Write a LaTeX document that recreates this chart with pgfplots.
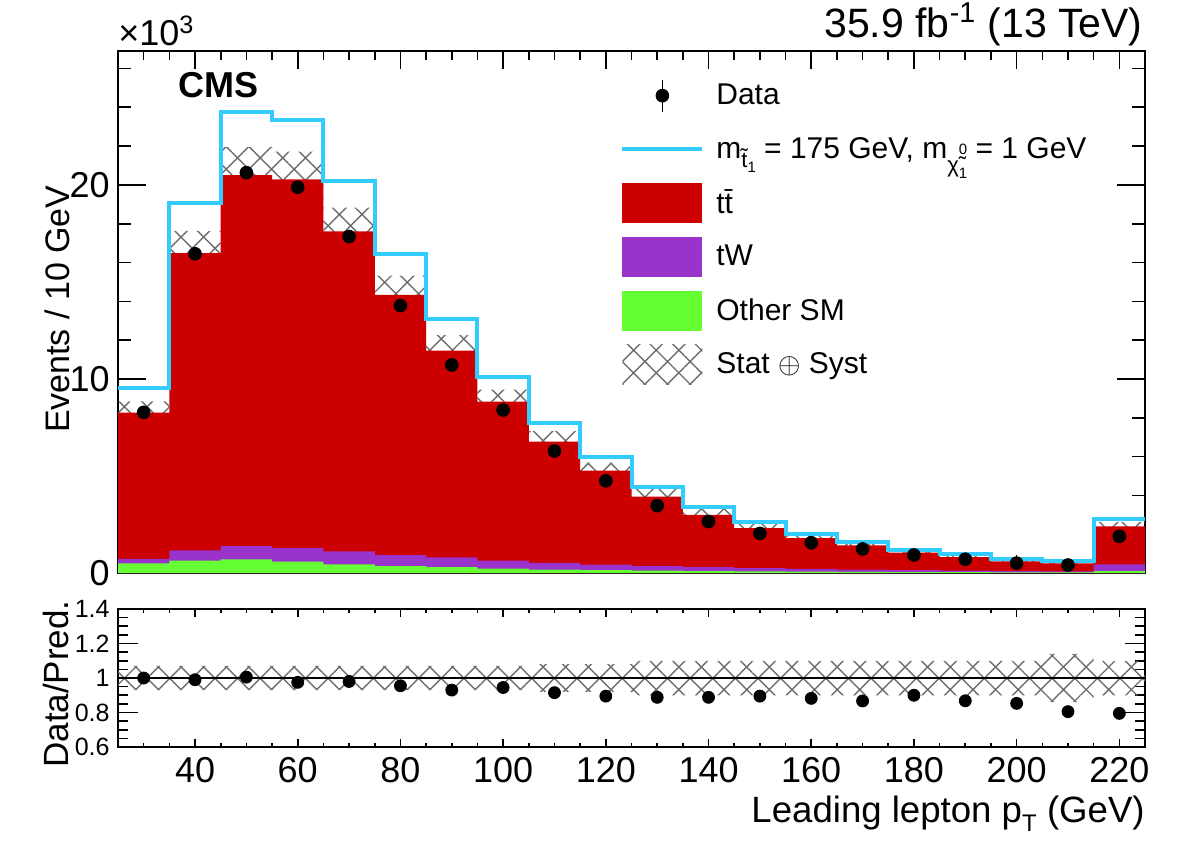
\documentclass[border=0pt]{standalone}
\usepackage{pgfplots}
\pgfplotsset{compat=1.18}
\usepackage{pgfplotstable}
\usepgfplotslibrary{fillbetween}
\usetikzlibrary{patterns.meta}
\usepackage{fontspec}
\setmainfont{Liberation Sans}

\definecolor{ttred}{RGB}{204,0,0}
\definecolor{twpur}{RGB}{153,51,204}
\definecolor{smgreen}{RGB}{102,255,51}
\definecolor{sigcyan}{RGB}{51,204,255}
\definecolor{hgray}{RGB}{110,110,110}

\tikzset{hatchpat/.style={pattern={Hatch[angle=45,distance=8pt,line width=0.7pt]}, pattern color=hgray}}

\newcommand{\stopsub}{\raisebox{-4.5pt}{\fontsize{11}{11}\selectfont\~{t}}\raisebox{-7pt}{\fontsize{7.5}{7.5}\selectfont 1}}
\newcommand{\chisub}{\raisebox{-7pt}{\fontsize{11}{11}\selectfont\~{χ}}\rlap{\raisebox{2pt}{\fontsize{7.5}{7.5}\selectfont 0}}\raisebox{-10pt}{\fontsize{7.5}{7.5}\selectfont 1}}

\pgfplotstableread{
x tot tw oth sig up lo rup rlo
25 8.26 0.73 0.49 9.54 8.84 7.68 1.07 0.93
35 16.48 1.16 0.64 19.06 17.63 15.33 1.07 0.93
45 20.50 1.38 0.70 23.74 21.94 19.07 1.07 0.93
55 20.29 1.28 0.59 23.35 21.71 18.87 1.07 0.93
65 17.60 1.12 0.45 20.20 18.83 16.37 1.07 0.93
75 14.33 0.92 0.35 16.44 15.33 13.33 1.07 0.93
85 11.46 0.80 0.30 13.09 12.26 10.66 1.07 0.93
95 8.83 0.64 0.23 10.12 9.45 8.21 1.07 0.93
105 6.77 0.52 0.18 7.72 7.31 6.23 1.08 0.92
115 5.27 0.43 0.15 5.98 5.69 4.85 1.08 0.92
125 3.93 0.36 0.12 4.45 4.32 3.54 1.10 0.90
135 2.99 0.30 0.10 3.40 3.29 2.69 1.10 0.90
145 2.31 0.25 0.09 2.62 2.54 2.08 1.10 0.90
155 1.80 0.21 0.07 2.03 1.98 1.62 1.10 0.90
165 1.43 0.18 0.06 1.62 1.57 1.29 1.10 0.90
175 1.05 0.15 0.05 1.21 1.16 0.95 1.10 0.90
185 0.82 0.12 0.04 0.99 0.90 0.74 1.10 0.90
195 0.60 0.10 0.03 0.73 0.66 0.54 1.10 0.90
205 0.49 0.08 0.03 0.63 0.56 0.42 1.14 0.86
215 2.40 0.44 0.10 2.80 2.64 2.16 1.10 0.90
225 2.40 0.44 0.10 2.80 2.64 2.16 1.10 0.90
}\steps

\pgfplotstableread{
x d r
30 8.28 1.000
40 16.45 0.990
50 20.63 1.005
60 19.88 0.975
70 17.34 0.980
80 13.78 0.955
90 10.72 0.930
100 8.40 0.945
110 6.29 0.915
120 4.75 0.895
130 3.47 0.888
140 2.65 0.888
150 2.04 0.895
160 1.56 0.882
170 1.24 0.867
180 0.93 0.900
190 0.71 0.868
200 0.51 0.853
210 0.41 0.805
220 1.89 0.795
}\pts

\pgfplotsset{
  cmsax/.style={
    scale only axis, width=513.5pt,
    xmin=25, xmax=225,
    tick align=inside,
    axis line style={line width=1pt},
    every tick/.style={black, line width=0.8pt},
    xtick={40,60,...,220},
    minor xtick={25,30,...,225},
    /pgf/number format/assume math mode=true,
    scaled y ticks=false,
    clip=true,
  },
}

\begin{document}
\begin{tikzpicture}

% ---------------- main panel
\begin{axis}[cmsax,
  at={(59pt,137.5pt)}, anchor=south west,
  height=261pt,
  ymin=0, ymax=26.9,
  ytick={0,10,20},
  minor ytick={0,2,...,26},
  xticklabels={},
  xtick style={/pgfplots/major tick length=9pt,/pgfplots/minor tick length=4.5pt},
  ytick style={/pgfplots/major tick length=14pt,/pgfplots/minor tick length=6.5pt},
  yticklabel style={font=\fontsize{18}{20}\selectfont, inner sep=0pt, xshift=-4pt},
  legend style={at={(0.4888,0.9535)}, anchor=north west, draw=none, fill=none,
    inner sep=0pt, row sep=6.9pt, font=\fontsize{15}{17}\selectfont,
    nodes={inner sep=0pt},
    /tikz/every odd column/.append style={column sep=6pt}},
  legend cell align=left,
]
\addlegendimage{legend image code/.code={
  \path[draw=none,fill=none] (0pt,-10pt) rectangle (40pt,10pt);
  \draw[black, line width=0.8pt] (20pt,-8pt) -- (20pt,8pt);
  \fill[black] (20pt,0pt) circle (3.2pt);}}
\addlegendentry{Data}
\addlegendimage{legend image code/.code={
  \path[draw=none,fill=none] (0pt,-10pt) rectangle (40pt,10pt);
  \draw[sigcyan, line width=2pt] (0pt,0pt) -- (40pt,0pt);}}
\addlegendentry{m\smash{\stopsub} = 175 GeV, m\smash{\chisub} = 1 GeV}
\addlegendimage{legend image code/.code={
  \fill[ttred, draw=none] (0pt,-10pt) rectangle (40pt,10pt);}}
\addlegendentry{t\={t}}
\addlegendimage{legend image code/.code={
  \fill[twpur, draw=none] (0pt,-10pt) rectangle (40pt,10pt);}}
\addlegendentry{tW}
\addlegendimage{legend image code/.code={
  \fill[smgreen, draw=none] (0pt,-10pt) rectangle (40pt,10pt);}}
\addlegendentry{Other SM}
\addlegendimage{legend image code/.code={
  \path[hatchpat, draw=none] (0pt,-10pt) rectangle (40pt,10pt);}}
\addlegendentry{Stat $\oplus$ Syst}

\addplot[const plot, fill=ttred, draw=none, forget plot] table[x=x,y=tot]{\steps} \closedcycle;
\addplot[const plot, fill=twpur, draw=none, forget plot] table[x=x,y=tw]{\steps} \closedcycle;
\addplot[const plot, fill=smgreen, draw=none, forget plot] table[x=x,y=oth]{\steps} \closedcycle;
\addplot[const plot, draw=none, name path=up, forget plot] table[x=x,y=up]{\steps};
\addplot[const plot, draw=none, name path=lo, forget plot] table[x=x,y=lo]{\steps};
\addplot[hatchpat, draw=none, forget plot] fill between[of=up and lo];
\addplot[const plot, draw=sigcyan, line width=2pt, forget plot] table[x=x,y=sig]{\steps};
\addplot[only marks, mark=*, mark size=3.2pt, black, forget plot] table[x=x,y=d]{\pts};
\end{axis}

% ---------------- ratio panel
\begin{axis}[cmsax,
  at={(59pt,50.5pt)}, anchor=south west,
  height=69pt,
  ymin=0.6, ymax=1.4,
  ytick={0.6,0.8,1,1.2,1.4},
  minor ytick={0.6,0.65,...,1.41},
  xtick style={/pgfplots/major tick length=4pt,/pgfplots/minor tick length=2pt},
  ytick style={/pgfplots/major tick length=10pt,/pgfplots/minor tick length=5pt},
  xticklabel style={font=\fontsize{18}{20}\selectfont, inner sep=0pt, yshift=-5pt},
  yticklabel style={font=\fontsize{12.5}{14}\selectfont, inner sep=0pt, xshift=-4pt},
]
\addplot[const plot, draw=none, name path=rup] table[x=x,y=rup]{\steps};
\addplot[const plot, draw=none, name path=rlo] table[x=x,y=rlo]{\steps};
\addplot[hatchpat, draw=none] fill between[of=rup and rlo];
\addplot[black, line width=0.8pt] coordinates {(25,1) (225,1)};
\addplot[only marks, mark=*, mark size=3pt, black] table[x=x,y=r]{\pts};
\end{axis}

% ---------------- texts
\node[anchor=base west, inner sep=0pt, font=\bfseries\fontsize{18}{20}\selectfont] at (89pt,375pt) {CMS};
\node[anchor=base east, inner sep=0pt, font=\fontsize{20.5}{22}\selectfont] at (571.5pt,405pt) {35.9 fb\textsuperscript{-1} (13 TeV)};
\node[anchor=base west, inner sep=0pt, font=\fontsize{18}{20}\selectfont] at (59pt,401pt) {×10\textsuperscript{3}};
\node[rotate=90, anchor=base east, inner sep=0pt, font=\fontsize{17}{19}\selectfont] at (34.5pt,331.5pt) {Events / 10 GeV};
\node[rotate=90, anchor=base east, inner sep=0pt, font=\fontsize{17.5}{19}\selectfont] at (34pt,124pt) {Data/Pred.};
\node[anchor=base east, inner sep=0pt, font=\fontsize{18.3}{20}\selectfont] at (572.5pt,13pt) {Leading lepton p\raisebox{-4.5pt}{\fontsize{12}{12}\selectfont T} (GeV)};

\pgfresetboundingbox
\path[use as bounding box] (0pt,0pt) rectangle (591pt,424pt);
\end{tikzpicture}
\end{document}
